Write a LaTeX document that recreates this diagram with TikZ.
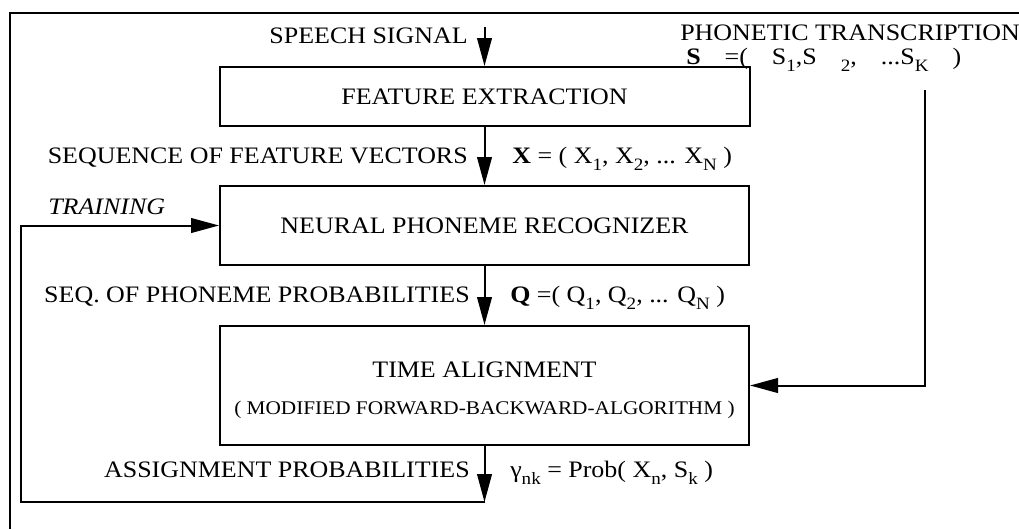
\documentclass[tikz,border=0pt]{standalone}
\usepackage{fontspec}
\setmainfont{Liberation Serif}[FakeStretch=1.1]
\usetikzlibrary{arrows.meta}
\newcommand\sbs[1]{\raisebox{-0.3em}{\fontsize{13}{13}\selectfont #1}}
\begin{document}
\begin{tikzpicture}[x=0.75pt,y=-0.75pt,
  every node/.style={font=\fontsize{17.7}{20}\selectfont},
  lbl/.style={inner sep=0pt},
  blk/.style={draw,line width=1.5pt,inner sep=0pt},
  ln/.style={line width=1.5pt},
  arr/.style={line width=1.5pt,-{Triangle[length=21pt,width=11pt]}}]
\useasboundingbox (0,0) rectangle (1019,529);
% frame
\draw[ln] (10,529) -- (10,13) -- (1019,13);
% boxes
\node[blk,minimum width=397.5pt,minimum height=44.25pt] (fe) at (484.5,96.5) {FEATURE EXTRACTION};
\node[blk,minimum width=396.75pt,minimum height=59.25pt] (nr) at (484.5,225.5) {NEURAL PHONEME RECOGNIZER};
\node[blk,minimum width=396.75pt,minimum height=89.25pt] (ta) at (484.5,385.5) {};
\node[lbl,anchor=base] (ta1) at (484.5,377) {TIME ALIGNMENT};
\node[lbl,anchor=base,font=\fontsize{14.5}{16}\selectfont] (ta2) at (484.5,414) {( MODIFIED FORWARD-BACKWARD-ALGORITHM )};
% labels
\node[lbl,anchor=base east] (ss) at (468,43) {SPEECH SIGNAL};
\node[lbl,anchor=base west] (pt) at (680,40) {PHONETIC TRANSCRIPTION};
\node[lbl,anchor=base west] (sv) at (686,64) {\spaceskip=18pt\textbf{S} =( S\sbs{1},S \sbs{2}, ...S\sbs{K} )};
\node[lbl,anchor=base east] (sf) at (468,163) {SEQUENCE OF FEATURE VECTORS};
\node[lbl,anchor=base west] (xv) at (512,163) {\textbf{X} = ( X\sbs{1}, X\sbs{2}, ... X\sbs{N} )};
\node[lbl,anchor=base west,font=\fontsize{17.7}{20}\selectfont\itshape] (tr) at (48,214) {TRAINING};
\node[lbl,anchor=base east] (sp) at (470,302) {SEQ. OF PHONEME PROBABILITIES};
\node[lbl,anchor=base west] (qv) at (510,302) {\textbf{Q} =( Q\sbs{1}, Q\sbs{2}, ... Q\sbs{N} )};
\node[lbl,anchor=base east] (ap) at (470,477) {ASSIGNMENT PROBABILITIES};
\node[lbl,anchor=base west] (gv) at (510,477) {γ\sbs{nk} = Prob( X\sbs{n}, S\sbs{k} )};
% coordinates
\coordinate (in) at (484.5,27);
\coordinate (st) at (925,90);
\coordinate (lb) at (484.5,502);
\coordinate (ll) at (21,502);
% connectors
\draw[arr] (in) -- (fe.north);
\draw[arr] (fe.south) -- (nr.north);
\draw[arr] (nr.south) -- (ta.north);
\draw[arr] (ta.south) -- (lb);
\draw[arr] (lb) -- (ll) |- (nr.west);
\draw[arr] (st) |- (ta.east);
\end{tikzpicture}
\end{document}
